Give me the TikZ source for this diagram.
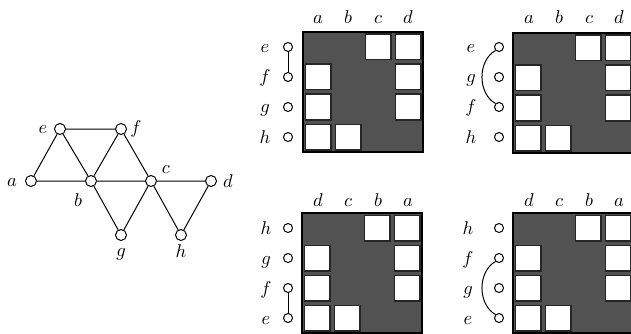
\documentclass[tikz,border=0pt]{standalone}
\usetikzlibrary{calc}
\definecolor{mgray}{HTML}{525252}
\begin{document}
\begin{tikzpicture}[x=1pt,y=-1pt,
  vtx/.style={circle,draw,line width=1pt,fill=white,inner sep=0pt,minimum size=11pt},
  rv/.style={circle,draw,line width=1pt,fill=white,inner sep=0pt,minimum size=9pt},
  lbl/.style={inner sep=0pt,anchor=base,scale=1.85},
  edge/.style={line width=1pt},
  zero/.style={fill=white,draw=black!85,line width=1.4pt},
  frame/.style={draw,line width=1.4pt}]
\useasboundingbox (0,0) rectangle (631,334);
\clip (0,0) rectangle (631,334);

% ---------- graph ----------
\node[vtx] (a) at (31,181) {};
\node[vtx] (b) at (91,181) {};
\node[vtx] (c) at (151,181) {};
\node[vtx] (d) at (211,181) {};
\node[vtx] (e) at (60,129) {};
\node[vtx] (f) at (121,129) {};
\node[vtx] (g) at (121,235) {};
\node[vtx] (h) at (181,235) {};
\draw[edge] (a) -- (b) (b) -- (c) (c) -- (d) (a) -- (e) (e) -- (f) (e) -- (b)
  (f) -- (b) (f) -- (c) (b) -- (g) (g) -- (c) (c) -- (h) (h) -- (d);
\node[lbl] (la) at (12,186) {$a$};
\node[lbl] (lb) at (78,206) {$b$};
\node[lbl] (lc) at (166,173) {$c$};
\node[lbl] (ld) at (228,187) {$d$};
\node[lbl] (le) at (43,133) {$e$};
\node[lbl] (lf) at (136,133) {$f$};
\node[lbl] (lg) at (121,256) {$g$};
\node[lbl] (lh) at (181,257) {$h$};

% ---------- matrices ----------
\newcommand\drawmat[2]{%
  \fill[mgray] (#1,#2) rectangle ++(120,120);
  \foreach \cc/\rr in {2/0,3/0,0/1,3/1,0/2,3/2,0/3,1/3}
    \filldraw[zero] ({#1+\cc*30+2.2},{#2+\rr*30+2.2}) rectangle ++(25.6,25.6);
  \draw[frame] (#1,#2) rectangle ++(120,120);
}
\drawmat{303}{32}
\drawmat{513}{33}
\drawmat{302}{213}
\drawmat{513}{213}

% top-left
\foreach \l [count=\i from 0] in {a,b,c,d}
  \node[lbl] (tlc\l) at (318+\i*30,24) {$\l$};
\foreach \l [count=\i from 0] in {e,f,g,h} {
  \node[lbl] (tll\l) at (265,53+\i*30) {$\l$};
  \node[rv] (tl\l) at (288,47+\i*30) {};
}
\draw[edge] (tle) -- (tlf);

% top-right
\foreach \l [count=\i from 0] in {a,b,c,d}
  \node[lbl] (trc\l) at (529+\i*30,24) {$\l$};
\foreach \l [count=\i from 0] in {e,g,f,h} {
  \node[lbl] (trl\l) at (471,53+\i*30) {$\l$};
  \node[rv] (tr\l) at (499,47+\i*30) {};
}
\draw[edge] (tre.south west) .. controls +(-18,10) and +(-18,-10) .. (trf.north west);

% bottom-left
\foreach \l [count=\i from 0] in {d,c,b,a}
  \node[lbl] (blc\l) at (318+\i*30,206) {$\l$};
\foreach \l [count=\i from 0] in {h,g,f,e} {
  \node[lbl] (bll\l) at (266,234+\i*30) {$\l$};
  \node[rv] (bl\l) at (288,228+\i*30) {};
}
\draw[edge] (blf) -- (ble);

% bottom-right
\foreach \l [count=\i from 0] in {d,c,b,a}
  \node[lbl] (brc\l) at (529+\i*30,206) {$\l$};
\foreach \l [count=\i from 0] in {h,f,g,e} {
  \node[lbl] (brl\l) at (468,234+\i*30) {$\l$};
  \node[rv] (br\l) at (499,228+\i*30) {};
}
\draw[edge] (brf.south west) .. controls +(-18,10) and +(-18,-10) .. (bre.north west);
\end{tikzpicture}
\end{document}
